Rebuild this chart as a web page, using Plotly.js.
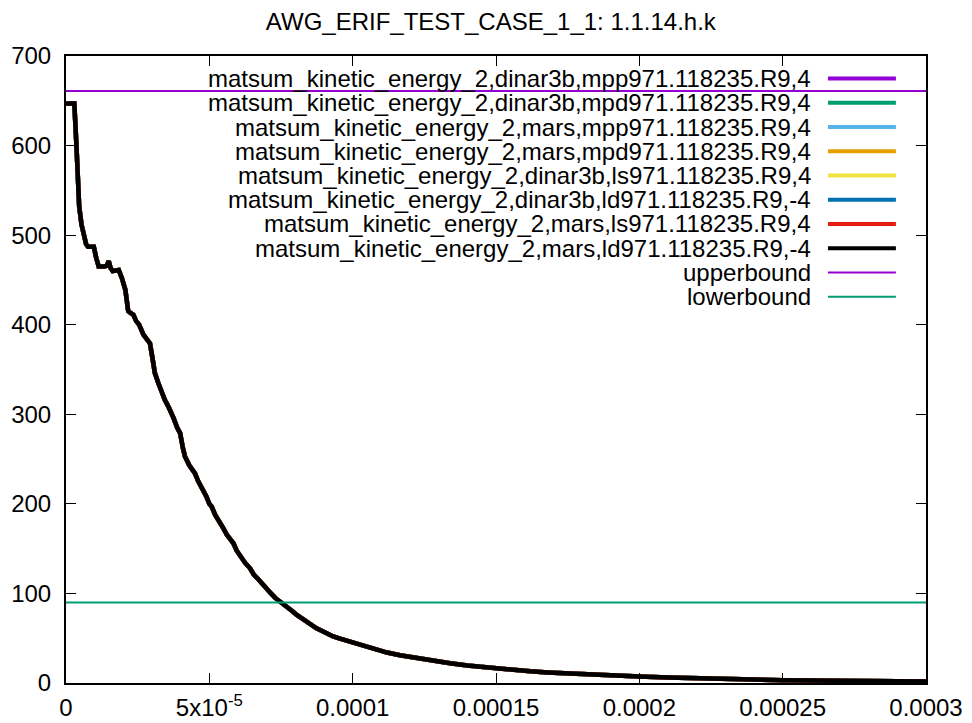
<!DOCTYPE html>
<html>
<head>
<meta charset="utf-8">
<script src="https://cdn.plot.ly/plotly-3.0.1.min.js"></script>
<style>html,body{margin:0;padding:0;background:#fff;}</style>
</head>
<body>
<div id="chart" style="width:972px;height:723px;"></div>
<script>
// ---- data ----
const seriesNames = [
  "matsum_kinetic_energy_2,dinar3b,mpp971.118235.R9,4",
  "matsum_kinetic_energy_2,dinar3b,mpd971.118235.R9,4",
  "matsum_kinetic_energy_2,mars,mpp971.118235.R9,4",
  "matsum_kinetic_energy_2,mars,mpd971.118235.R9,4",
  "matsum_kinetic_energy_2,dinar3b,ls971.118235.R9,4",
  "matsum_kinetic_energy_2,dinar3b,ld971.118235.R9,-4",
  "matsum_kinetic_energy_2,mars,ls971.118235.R9,4",
  "matsum_kinetic_energy_2,mars,ld971.118235.R9,-4"
];
const seriesColors = ["#9400d3","#009e73","#56b4e9","#e69f00","#f0e442","#0072b2","#e51e10","#000000"];

const time = [
  0, 0.29e-5, 0.36e-5, 0.40e-5, 0.46e-5, 0.54e-5, 0.62e-5, 0.70e-5, 0.77e-5, 0.97e-5,
  1.05e-5, 1.14e-5, 1.35e-5, 1.42e-5, 1.49e-5, 1.56e-5, 1.63e-5, 1.75e-5, 1.84e-5, 1.95e-5,
  2.07e-5, 2.17e-5, 2.25e-5, 2.35e-5, 2.45e-5, 2.55e-5, 2.70e-5, 2.82e-5, 2.93e-5, 3.02e-5,
  3.10e-5, 3.22e-5, 3.34e-5, 3.45e-5, 3.55e-5, 3.63e-5, 3.75e-5, 3.88e-5, 3.98e-5, 4.08e-5,
  4.15e-5, 4.30e-5, 4.40e-5, 4.50e-5, 4.60e-5, 4.70e-5, 4.79e-5, 4.90e-5, 5.00e-5, 5.08e-5,
  5.20e-5, 5.30e-5, 5.37e-5, 5.50e-5, 5.60e-5, 5.70e-5, 5.84e-5, 5.95e-5, 6.10e-5, 6.25e-5,
  6.42e-5, 6.55e-5, 6.70e-5, 6.85e-5, 7.00e-5, 7.15e-5, 7.30e-5, 7.45e-5, 7.58e-5, 7.75e-5,
  7.90e-5, 8.05e-5, 8.16e-5, 8.30e-5, 8.45e-5, 8.60e-5, 8.74e-5, 8.90e-5, 9.05e-5, 9.20e-5,
  9.32e-5, 9.50e-5, 9.70e-5, 9.91e-5, 10.2e-5, 10.49e-5, 10.8e-5, 11.2e-5, 11.65e-5, 12.2e-5,
  12.8e-5, 13.4e-5, 14.0e-5, 14.6e-5, 15.0e-5, 15.6e-5, 16.2e-5, 16.8e-5, 17.6e-5, 18.4e-5,
  19.2e-5, 20.0e-5, 21.0e-5, 22.0e-5, 23.0e-5, 24.0e-5, 25.0e-5, 26.0e-5, 27.0e-5, 28.0e-5,
  29.0e-5, 30.0e-5
];
const energy = [
  647, 647, 603, 570, 532, 512, 502, 490, 487, 487,
  475, 465, 465, 466, 471, 463, 460, 461, 461, 452,
  439, 415, 413, 411, 404, 400, 389, 384, 379, 362,
  346, 335, 323, 316, 310, 305, 296, 285, 279, 262,
  253, 243, 238, 234, 226, 220, 216, 208, 200, 197,
  188, 183, 180, 172, 166, 161, 156, 148, 140, 134,
  128, 121, 116, 110, 105, 100, 95, 91.5, 89, 84,
  80, 76, 73.5, 70, 66.5, 63.5, 61, 58.5, 56, 54,
  52, 50, 48, 46, 43, 40.5, 37, 34, 31, 28,
  25, 22, 19.5, 17.5, 16.5, 14.5, 13, 11.8, 10.4, 9.2,
  8.1, 7.3, 6.1, 5.1, 4.3, 3.7, 3.2, 2.8, 2.5, 2.2,
  2.0, 1.8
];

const boundNames = ["upperbound", "lowerbound"];
const boundColors = ["#9400d3", "#009e73"];
const boundValues = [661, 90];
const boundX = [0, 0.0003];

const xTickVals = [0, 0.00005, 0.0001, 0.00015, 0.0002, 0.00025, 0.0003];
const xTickText = ["0", "5x10<sup>-5</sup>", "0.0001", "0.00015", "0.0002", "0.00025", "0.0003"];
const yTickVals = [0, 100, 200, 300, 400, 500, 600, 700];

const titleText = "AWG_ERIF_TEST_CASE_1_1: 1.1.14.h.k";

// ---- traces ----
const traces = [];
seriesNames.forEach((n, i) => {
  traces.push({x: time, y: energy, name: n, type: "scatter", mode: "lines",
    line: {color: seriesColors[i], width: 4.5}, showlegend: false});
});
boundNames.forEach((n, i) => {
  traces.push({x: boundX, y: [boundValues[i], boundValues[i]], name: n, type: "scatter", mode: "lines",
    line: {color: boundColors[i], width: 2}, showlegend: false});
});

// ---- custom gnuplot-style legend (text right, sample on right) ----
const FONT = "Liberation Sans, Arial, sans-serif";
const legNames = seriesNames.concat(boundNames);
const legColors = seriesColors.concat(boundColors);
const legWidths = seriesNames.map(() => 4).concat(boundNames.map(() => 2));
const plotTop = 56, plotBottom = 683, plotH = plotBottom - plotTop;
const row0 = 78.5, rowStep = 24.25;
const annotations = [], shapes = [];
legNames.forEach((n, i) => {
  const yp = (plotBottom - (row0 + i * rowStep)) / plotH;
  annotations.push({xref: "paper", yref: "paper", x: 0.8686, y: yp, xanchor: "right", yanchor: "middle",
    text: n, showarrow: false, font: {family: FONT, size: 24, color: "#000"}});
  shapes.push({type: "line", xref: "paper", yref: "paper", x0: 0.886, x1: 0.965, y0: yp, y1: yp,
    line: {color: legColors[i], width: legWidths[i]}});
});

const layout = {
  width: 972, height: 723,
  margin: {l: 66, r: 46, t: 56, b: 40},
  paper_bgcolor: "#fff", plot_bgcolor: "#fff",
  font: {family: FONT, size: 24, color: "#000"},
  title: {text: titleText, x: 0.505, xref: "container", xanchor: "center", y: 0.97, yref: "container", yanchor: "middle",
    font: {family: FONT, size: 24, color: "#000"}},
  showlegend: false,
  xaxis: {range: [0, 0.0003], tickvals: xTickVals, ticktext: xTickText, ticks: "inside", ticklen: 10, tickwidth: 1,
    tickcolor: "#000", showline: true, linecolor: "#000", linewidth: 2, mirror: "allticks", showgrid: false, zeroline: false,
    ticklabelstandoff: 2, tickfont: {family: FONT, size: 24}},
  yaxis: {range: [0, 700], tickvals: yTickVals, ticks: "inside", ticklen: 10, tickwidth: 1,
    tickcolor: "#000", showline: true, linecolor: "#000", linewidth: 2, mirror: "allticks", showgrid: false, zeroline: false,
    ticklabelstandoff: 8, tickfont: {family: FONT, size: 24}},
  annotations: annotations,
  shapes: shapes
};

Plotly.newPlot("chart", traces, layout, {displayModeBar: false, staticPlot: true});
</script>
</body>
</html>
